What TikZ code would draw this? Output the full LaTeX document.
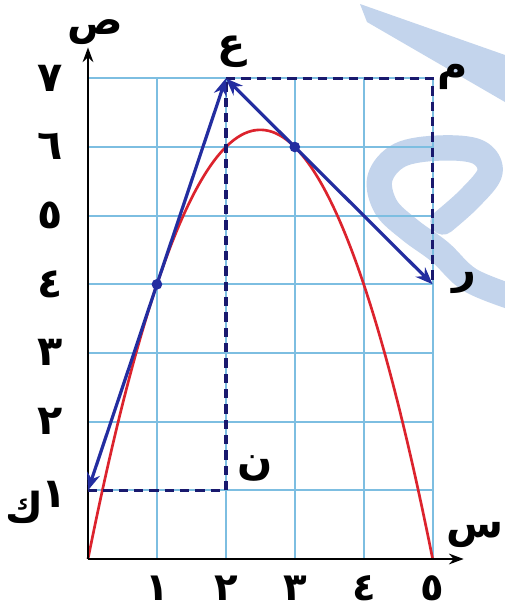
\documentclass[tikz,border=0pt]{standalone}
\usepackage{fontspec}
\newfontfamily\arabicfont[Script=Arabic]{DejaVu Sans}
\usetikzlibrary{arrows.meta}
\TeXXeTstate=1
\definecolor{gridblue}{RGB}{125,190,225}
\definecolor{curvered}{RGB}{220,35,45}
\definecolor{tanblue}{RGB}{35,45,160}
\definecolor{dashnavy}{RGB}{25,25,110}
\definecolor{wmblue}{RGB}{195,212,236}
\begin{document}
\begin{tikzpicture}[x=0.75pt,y=-0.75pt,
  gridline/.style={draw=gridblue, line width=1.7pt},
  curvestyle/.style={draw=curvered, line width=2pt},
  axisline/.style={draw=black, line width=1.8pt, -{Stealth[length=11pt,width=8pt]}},
  dashline/.style={draw=dashnavy, line width=2.6pt, dash pattern=on 7pt off 4.5pt},
  tanarrow/.style={draw=tanblue, line width=2.4pt, -{Stealth[length=13pt,width=10pt]}},
  dotstyle/.style={fill=tanblue},
  lbl/.style={font=\arabicfont\bfseries\fontsize{31}{36}\selectfont, inner sep=0pt},
  xlbl/.style={font=\arabicfont\bfseries\fontsize{29}{34}\selectfont, inner sep=0pt, anchor=base, text depth=0pt},
  wm/.style={draw=wmblue, line cap=round, line join=round}
]
\useasboundingbox[fill=white] (0,0) rectangle (505,611);
% watermark
\fill[wmblue] (360,4) -- (505,55) -- (505,102) -- (367,22) -- cycle;
\draw[wm, line width=19pt] plot[smooth, tension=0.6] coordinates {(515,298) (470,280) (440,252) (410,230) (386,207) (380,178) (400,155) (440,148) (478,152) (490,172) (470,198) (443,222)};
\begin{scope}[shift={(88,559)}, x=51.7pt, y=51.5pt]
  \foreach \i in {1,...,5} \draw[gridline] (\i,0) -- (\i,7);
  \foreach \j in {1,...,7} \draw[gridline] (0,\j) -- (5,\j);
  \draw[curvestyle, domain=0:5, samples=100, smooth] plot (\x,{5*\x-\x*\x});
  \coordinate (O) at (0,0);
  \coordinate (Ytop) at (0,7.45);
  \coordinate (Xend) at (5.45,0);
  \draw[axisline] (O) -- (Ytop);
  \draw[axisline] (O) -- (Xend);
  \coordinate (K) at (0,1);
  \coordinate (N) at (2,1);
  \coordinate (A) at (2,7);
  \coordinate (M) at (5,7);
  \coordinate (R) at (5,4);
  \coordinate (P1) at (1,4);
  \coordinate (P2) at (3,6);
  \draw[dashline] (K) -- (N) -- (A);
  \draw[dashline] (A) -- (M) -- (R);
  \draw[tanarrow] (P1) -- (K);
  \draw[tanarrow] (P1) -- (A);
  \draw[tanarrow] (P2) -- (A);
  \draw[tanarrow] (P2) -- (R);
  \fill[dotstyle] (P1) circle (4pt);
  \fill[dotstyle] (P2) circle (4pt);
\end{scope}
% y labels
\node[lbl] (y7) at (50,78) {٧};
\node[lbl] (y6) at (50,146) {٦};
\node[lbl] (y5) at (50,215) {٥};
\node[lbl] (y4) at (50,284) {٤};
\node[lbl] (y3) at (50,352) {٣};
\node[lbl] (y2) at (50,421) {٢};
\node[lbl] (y1) at (54,494) {١};
\node[lbl] (lk) at (24,507) {ك};
% x labels
\node[xlbl] (x1) at (157,600) {١};
\node[xlbl] (x2) at (226,600) {٢};
\node[xlbl] (x3) at (295,600) {٣};
\node[xlbl] (x4) at (364,600) {٤};
\node[xlbl] (x5) at (432,600) {٥};
% point labels
\node[lbl] (ls) at (95,32) {ص};
\node[lbl] (la) at (232,52) {ع};
\node[lbl] (lm) at (453,77) {م};
\node[lbl] (lr) at (464,283) {ر};
\node[lbl] (ln) at (255,468) {ن};
\node[lbl] (lx) at (475,535) {س};
\end{tikzpicture}
\end{document}
